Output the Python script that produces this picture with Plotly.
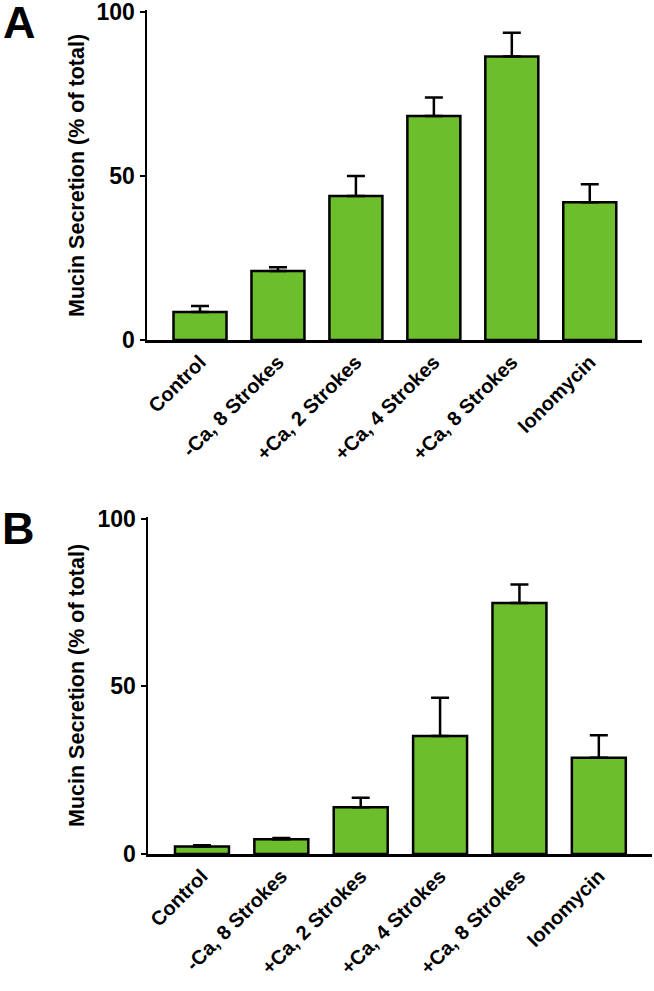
import plotly.graph_objects as go

categories = ["Control", "-Ca, 8 Strokes", "+Ca, 2 Strokes", "+Ca, 4 Strokes", "+Ca, 8 Strokes", "Ionomycin"]
a_means = [8.5, 21.0, 43.9, 68.3, 86.4, 42.0]
a_err = [1.9, 1.2, 6.1, 5.6, 7.3, 5.5]
b_means = [2.2, 4.4, 13.9, 35.2, 74.8, 28.7]
b_err = [0.4, 0.4, 2.9, 11.4, 5.5, 6.7]
y_ticks = [0, 50, 100]
y_title = "Mucin Secretion (% of total)"

W, H = 654, 991
FONT = "Arial, Liberation Sans, Helvetica, sans-serif"
GREEN = "#6CBE2D"

def px_x(p):
    return min(1.0, p / W)

def px_y(p):
    return 1 - p / H

fig = go.Figure()

for means, err, xa, ya in [(a_means, a_err, "x", "y"), (b_means, b_err, "x2", "y2")]:
    fig.add_trace(go.Bar(
        x=categories, y=means, width=0.68,
        marker=dict(color=GREEN, line=dict(color="black", width=2.5)),
        error_y=dict(type="data", array=err, arrayminus=[0] * len(err), symmetric=False,
                     color="black", thickness=2.5, width=9),
        xaxis=xa, yaxis=ya, showlegend=False, hoverinfo="skip",
    ))

xcommon = dict(
    type="category", showline=True, linecolor="black", linewidth=2.5,
    ticks="", tickangle=-45, showgrid=False, zeroline=False, automargin=False,
    ticklabeloverflow="allow",
    tickfont=dict(family=FONT, size=20, color="black", weight="bold"),
)
ycommon = dict(
    range=[0, 100.6], tickvals=y_ticks, showline=True, linecolor="black", linewidth=2.5,
    ticks="outside", ticklen=5, tickwidth=2, tickcolor="black", showgrid=False, zeroline=False,
    automargin=False, ticklabeloverflow="allow",
    tickfont=dict(family=FONT, size=23, color="black", weight="bold"),
)

fig.update_layout(
    template="none",
    width=W, height=H,
    margin=dict(l=0, r=0, t=0, b=0),
    paper_bgcolor="white", plot_bgcolor="white",
    xaxis=dict(domain=[px_x(147), px_x(642)], range=[-0.68, 5.67], anchor="y", **xcommon),
    yaxis=dict(domain=[px_y(340), px_y(10)], anchor="x", **ycommon),
    xaxis2=dict(domain=[px_x(148), px_x(652)], range=[-0.68, 5.67], anchor="y2", **xcommon),
    yaxis2=dict(domain=[px_y(854), px_y(516.5)], anchor="x2", **ycommon),
    bargap=0.3,
)

annots = [
    dict(text="<b>A</b>", x=px_x(19.5), y=px_y(23), size=45),
    dict(text="<b>B</b>", x=px_x(18.5), y=px_y(528), size=45),
]
for a in annots:
    fig.add_annotation(text=a["text"], x=a["x"], y=a["y"], xref="paper", yref="paper",
                       showarrow=False, xanchor="center", yanchor="middle",
                       font=dict(family=FONT, size=a["size"], color="black"))

for yc in [176, 686]:
    fig.add_annotation(text="<b>" + y_title + "</b>", x=px_x(77), y=px_y(yc), xref="paper", yref="paper",
                       showarrow=False, textangle=-90, xanchor="center", yanchor="middle",
                       font=dict(family=FONT, size=21.5, color="black"))

fig.write_html(
    "out.html",
    config={"displayModeBar": False, "staticPlot": True},
    post_script="document.body.style.margin='0px'; document.body.style.overflow='hidden';",
)
